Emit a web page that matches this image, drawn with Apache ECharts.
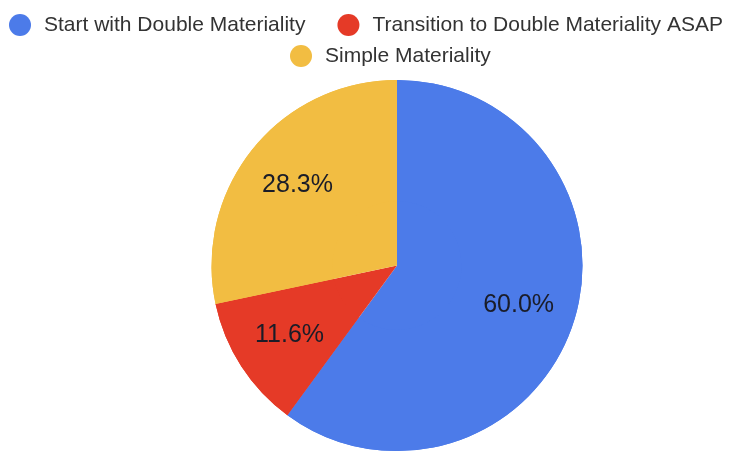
<!DOCTYPE html>
<html>
<head>
<meta charset="utf-8">
<style>
  html, body { margin: 0; padding: 0; background: #fff; }
  #mychart { width: 741px; height: 451px; }
</style>
<script src="https://cdn.jsdelivr.net/npm/echarts@6/dist/echarts.min.js"></script>
</head>
<body>
<div id="mychart"></div>
<script>
// data
var names = [
  "Start with Double Materiality",
  "Transition to Double Materiality ASAP",
  "Simple Materiality",
];
var values = [60.0, 11.6, 28.3];
var colors = ["#4c7be9", "#e53a27", "#f2bd42"];

var pieData = names.map(function (n, i) {
  return { name: n, value: values[i], itemStyle: { color: colors[i] } };
});

var myEcharts = echarts.init(document.getElementById("mychart"));

var legendBase = {
  icon: "circle",
  itemWidth: 22,
  itemHeight: 22,
  itemGap: 32,
  textStyle: {
    fontFamily: "Liberation Sans, Arial, sans-serif",
    fontSize: 21,
    color: "#333",
    padding: [0, 0, 0, 8],
  },
};

var option = {
  animation: false,
  legend: [
    Object.assign({}, legendBase, { data: names.slice(0, 2), left: 4, top: 9 }),
    Object.assign({}, legendBase, { data: names.slice(2), left: 285, top: 40 }),
  ],
  series: [
    {
      // full disc underneath, no labels
      type: "pie",
      center: [397, 265.5],
      radius: [0, 185.5],
      startAngle: 90,
      clockwise: true,
      silent: true,
      label: { show: false },
      labelLine: { show: false },
      data: pieData,
    },
    {
      // ring on top only to push labels out to ~2/3 of the radius
      type: "pie",
      center: [397, 265.5],
      radius: [64.5, 185.5],
      startAngle: 90,
      clockwise: true,
      label: {
        show: true,
        position: "inside",
        fontFamily: "Liberation Sans, Arial, sans-serif",
        fontSize: 25,
        color: "#1a1c28",
        formatter: function (p) {
          return p.value.toFixed(1) + "%";
        },
      },
      labelLine: { show: false },
      emphasis: { disabled: true },
      data: pieData,
    },
  ],
};
myEcharts.setOption(option);
</script>
</body>
</html>
